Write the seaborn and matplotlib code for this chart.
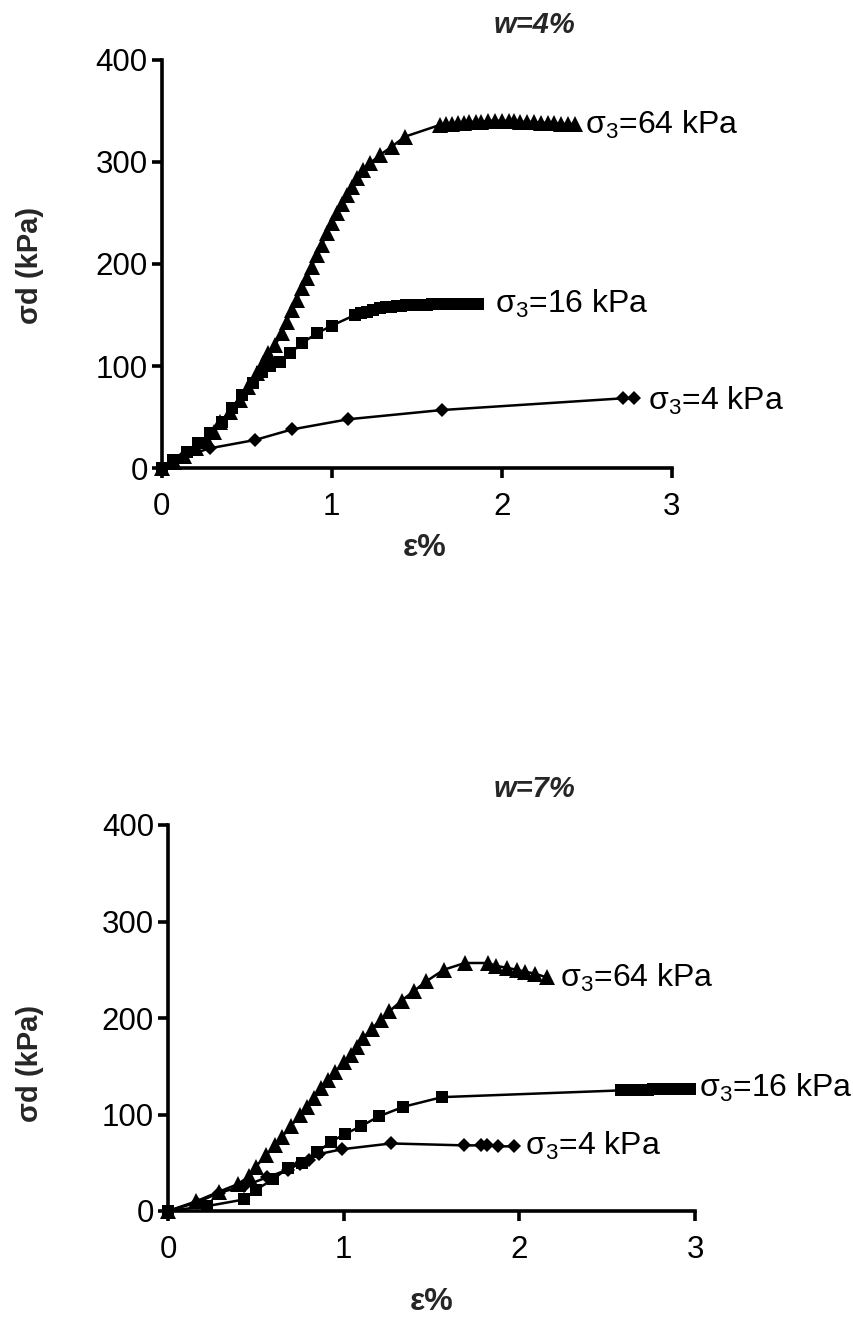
import matplotlib
matplotlib.use("Agg")
import matplotlib.pyplot as plt
import seaborn as sns
import pandas as pd

# ---- w = 4 % ----
eps_w4_64 = [0, 0.07, 0.13, 0.20, 0.265, 0.31, 0.343, 0.402, 0.461, 0.51, 0.559, 0.595,
             0.627, 0.667, 0.706, 0.735, 0.765, 0.794, 0.824, 0.853, 0.882, 0.912, 0.941,
             0.971, 1.00, 1.03, 1.059, 1.088, 1.118, 1.147, 1.186, 1.225, 1.284, 1.353,
             1.431, 1.637, 1.67, 1.71, 1.74, 1.78, 1.81, 1.85, 1.88, 1.92, 1.96, 2.00,
             2.04, 2.07, 2.11, 2.15, 2.19, 2.23, 2.27, 2.31, 2.35, 2.39, 2.43]
sig_w4_64 = [0, 6, 12, 20, 27.7, 36, 45.7, 55.4, 66.9, 80, 93, 103,
             112.5, 120.7, 132, 143.5, 155, 164.7, 176, 186, 197, 209, 218.5,
             230, 239.7, 249.5, 259, 267.4, 275.6, 283.8, 292, 298.4, 306.6, 314.7,
             324.5, 336, 337, 337, 338, 338, 339, 339, 339, 340, 340, 340,
             340, 340, 339, 339, 339, 338, 338, 338, 337, 337, 337]

eps_w4_16 = [0, 0.069, 0.147, 0.216, 0.284, 0.353, 0.412, 0.471, 0.539, 0.588, 0.64,
             0.696, 0.755, 0.824, 0.912, 1.00, 1.137, 1.17, 1.206, 1.24, 1.284, 1.32,
             1.35, 1.382, 1.41, 1.44, 1.47, 1.50, 1.53, 1.56, 1.59, 1.62, 1.65, 1.68,
             1.71, 1.74, 1.77, 1.80, 1.83, 1.86]
sig_w4_16 = [0, 8.2, 16.3, 24.5, 34.2, 45.7, 58.7, 71.8, 83.2, 94.6, 100,
             104.4, 112.5, 122.3, 132, 139.6, 150, 152, 153.3, 155, 156.6, 157.5,
             158, 158.8, 159, 159.4, 159.6, 159.8, 160, 160, 160.5, 160.5, 160.8, 160.8,
             160.8, 160.8, 160.8, 160.8, 160.8, 160.8]

eps_w4_4 = [0, 0.127, 0.284, 0.549, 0.765, 1.098, 1.647, 2.715, 2.78]
sig_w4_4 = [0, 11.4, 19.6, 27.7, 38, 48, 57, 68.5, 68.5]

# ---- w = 7 % ----
eps_w7_64 = [0, 0.16, 0.29, 0.40, 0.46, 0.50, 0.56, 0.61, 0.65, 0.70, 0.75, 0.79,
             0.83, 0.87, 0.91, 0.95, 1.00, 1.04, 1.075, 1.11, 1.16, 1.21, 1.26, 1.33,
             1.40, 1.47, 1.57, 1.69, 1.82, 1.87, 1.93, 1.985, 2.03, 2.09, 2.155]
sig_w7_64 = [0, 10, 20, 28, 36, 46, 58, 68, 77, 88, 99, 108,
             117, 127, 136, 144, 154, 162, 170, 179, 189, 198, 207, 218,
             228, 238, 250, 257, 257, 254, 252, 250, 248, 246, 242]

eps_w7_16 = [0, 0.22, 0.435, 0.50, 0.60, 0.685, 0.76, 0.85, 0.93, 1.01, 1.10, 1.20,
             1.34, 1.56, 2.58, 2.61, 2.64, 2.67, 2.70, 2.73, 2.76, 2.79, 2.82, 2.85,
             2.88, 2.91, 2.94, 2.97]
sig_w7_16 = [0, 5, 12, 22, 33, 45, 50, 61, 72, 80, 88, 98,
             108, 118, 125, 125, 125, 125.5, 125.5, 125.5, 126, 126, 126, 126,
             126, 126, 126, 126]

eps_w7_4 = [0, 0.163, 0.293, 0.435, 0.565, 0.685, 0.75, 0.80, 0.86, 0.99, 1.27,
            1.685, 1.78, 1.815, 1.88, 1.97]
sig_w7_4 = [0, 8.7, 19, 26, 35, 43, 49, 53, 59, 64, 70,
            68, 68, 68, 67, 67]

x_ticks = [0, 1, 2, 3]
y_ticks = [0, 100, 200, 300, 400]

sns.set_style("ticks")
plt.rcParams["font.family"] = ["Liberation Sans", "DejaVu Sans"]
plt.rcParams["mathtext.fontset"] = "custom"
plt.rcParams["mathtext.rm"] = "Liberation Sans"
plt.rcParams["mathtext.it"] = "Liberation Sans:italic"
plt.rcParams["mathtext.bf"] = "Liberation Sans:bold"

W, H = 854, 1319
fig = plt.figure(figsize=(W / 100, H / 100), dpi=100)


def px_box(x0, x1, y_top, y_bot):
    return [x0 / W, 1 - y_bot / H, (x1 - x0) / W, (y_bot - y_top) / H]


ax_top = fig.add_axes(px_box(161.7, 671.7, 59.5, 468.3))
ax_bot = fig.add_axes(px_box(168, 695, 825, 1211))

styles = {"64": dict(marker="^", markersize=11),
          "16": dict(marker="s", markersize=8.5),
          "4": dict(marker="D", markersize=7.5)}


def draw(ax, series):
    for key, xs, ys in series:
        df = pd.DataFrame({"eps": xs, "sig": ys})
        sns.lineplot(data=df, x="eps", y="sig", ax=ax, estimator=None, sort=False,
                     color="black", linewidth=1.8, markeredgewidth=0,
                     markerfacecolor="black", clip_on=False, **styles[key])
    ax.set_xlim(0, 3)
    ax.set_ylim(0, 400)
    ax.set_xticks(x_ticks)
    ax.set_yticks(y_ticks)
    ax.set_xlabel("")
    ax.set_ylabel("")
    for s in ("top", "right"):
        ax.spines[s].set_visible(False)
    for s in ("left", "bottom"):
        ax.spines[s].set_linewidth(2.6)
        ax.spines[s].set_color("black")
    ax.tick_params(axis="both", direction="out", length=7, width=2.6,
                   labelsize=22.5, colors="black")
    ax.tick_params(axis="x", pad=10)
    ax.tick_params(axis="y", pad=3)


draw(ax_top, [("64", eps_w4_64, sig_w4_64), ("16", eps_w4_16, sig_w4_16),
              ("4", eps_w4_4, sig_w4_4)])
draw(ax_bot, [("64", eps_w7_64, sig_w7_64), ("16", eps_w7_16, sig_w7_16),
              ("4", eps_w7_4, sig_w7_4)])

lab_kw = dict(fontsize=23, va="center", ha="left", color="black", clip_on=False)
ax_top.text(2.49, 336, "σ$_3$=64 kPa", **lab_kw)
ax_top.text(1.96, 161, "σ$_3$=16 kPa", **lab_kw)
ax_top.text(2.86, 66, "σ$_3$=4 kPa", **lab_kw)
ax_bot.text(2.23, 242, "σ$_3$=64 kPa", **lab_kw)
ax_bot.text(3.02, 127, "σ$_3$=16 kPa", **lab_kw)
ax_bot.text(2.03, 67, "σ$_3$=4 kPa", **lab_kw)

title_kw = dict(fontsize=21, fontweight="bold", fontstyle="italic",
                ha="center", va="center")
fig.text(534 / W, 1 - 25 / H, "w=4%", **title_kw)
fig.text(534 / W, 1 - 789 / H, "w=7%", **title_kw)

ylab_kw = dict(fontsize=21, fontweight="bold", rotation=90, ha="center", va="center")
fig.text(30 / W, 1 - 265 / H, "σd (kPa)", **ylab_kw)
fig.text(30 / W, 1 - 1063 / H, "σd (kPa)", **ylab_kw)

xlab_kw = dict(fontsize=23, fontweight="bold", ha="center", va="center")
fig.text(425 / W, 1 - 548 / H, "ε%", **xlab_kw)
fig.text(432 / W, 1 - 1302 / H, "ε%", **xlab_kw)

fig.savefig("out.png", dpi=100, facecolor="white")
